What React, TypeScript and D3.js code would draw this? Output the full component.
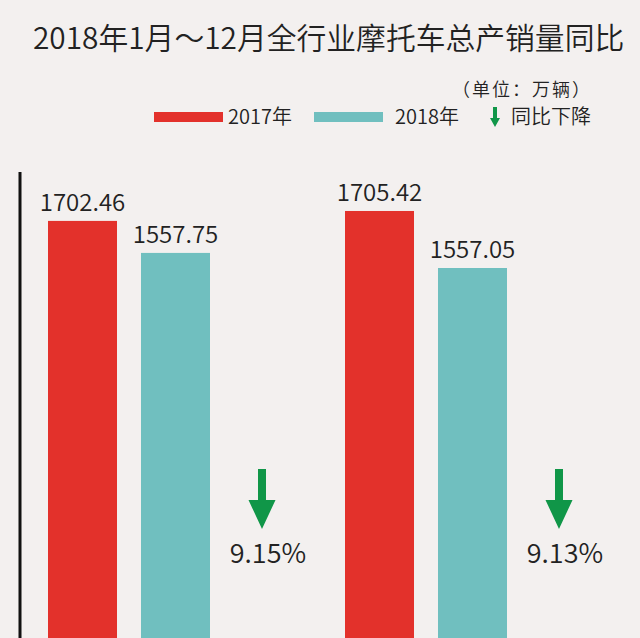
import React from "react";
import * as d3 from "d3";

const categories = ["产量", "销量"];
const series = ["2017年", "2018年"];
const values2017 = [1702.46, 1705.42];
const values2018 = [1557.75, 1557.05];
const declinePct = [9.15, 9.13];
// each panel has its own (non-zero based) value axis, as in the original graphic
const panelDomains: [number, number][] = [
  [-192, 1797],
  [589, 1734],
];

const W = 640;
const H = 638;
const COLORS = ["#e3312b", "#70bfbf"];
const GREEN = "#109648";
const FONT = "'Noto Sans CJK SC', 'Noto Sans', sans-serif";
const TEXT = "#222";

export default function App() {
  const x0 = d3.scaleBand<string>().domain(categories).range([48, 642]).padding(0).align(0);
  const x1 = d3.scaleBand<string>().domain(series).range([0, 162]).paddingInner(0.258).paddingOuter(0);
  const yScales = panelDomains.map((d) => d3.scaleLinear().domain(d).range([640, 200]));

  const arrow = (cx: number, top: number, shaftW: number, headW: number, headTop: number, tip: number) =>
    `M${cx - shaftW / 2},${top} L${cx + shaftW / 2},${top} L${cx + shaftW / 2},${headTop} L${cx + headW / 2},${headTop} L${cx},${tip} L${cx - headW / 2},${headTop} L${cx - shaftW / 2},${headTop} Z`;

  return (
    <svg
      width={W}
      height={H}
      style={{ position: "absolute", left: 0, top: 0, display: "block" }}
      fontFamily={FONT}
      fontWeight={350}
    >
      <rect x={0} y={0} width={W} height={H} fill="#f3f0ef" />
      <text x={33} y={49} fontSize={29.8} fill={TEXT}>
        2018年1月～12月全行业摩托车总产销量同比
      </text>
      <text x={592} y={96} fontSize={18} fill={TEXT} textAnchor="end" letterSpacing={2}>
        （单位：万辆）
      </text>

      {/* legend */}
      <rect x={154} y={112} width={69} height={10} fill={COLORS[0]} />
      <text x={228} y={124} fontSize={20} fill={TEXT}>{series[0]}</text>
      <rect x={314} y={112} width={69} height={10} fill={COLORS[1]} />
      <text x={395} y={124} fontSize={20} fill={TEXT}>{series[1]}</text>
      <path d={arrow(495, 107, 4, 10, 118, 127)} fill={GREEN} />
      <text x={511} y={124} fontSize={20} fill={TEXT}>同比下降</text>

      {/* axis line */}
      <line x1={20} x2={20} y1={172} y2={H} stroke="#111" strokeWidth={3} />

      {categories.map((c, i) => {
        const gx = x0(c)!;
        const y = yScales[i];
        const vals = [values2017[i], values2018[i]];
        return (
          <g key={c}>
            {series.map((s, j) => {
              const bx = gx + x1(s)!;
              const by = y(vals[j]);
              return (
                <g key={s}>
                  <rect x={bx} y={by} width={x1.bandwidth()} height={H + 2 - by} fill={COLORS[j]} />
                  <text
                    x={bx + x1.bandwidth() / 2}
                    y={by - 10}
                    fontSize={24}
                    fill={TEXT}
                    textAnchor="middle"
                  >
                    {vals[j].toFixed(2)}
                  </text>
                </g>
              );
            })}
            <path d={arrow(gx + 214, 469, 8, 27, 500, 529)} fill={GREEN} />
            <text x={gx + 220} y={563} fontSize={27} fill={TEXT} textAnchor="middle">
              {declinePct[i].toFixed(2)}%
            </text>
          </g>
        );
      })}
    </svg>
  );
}
